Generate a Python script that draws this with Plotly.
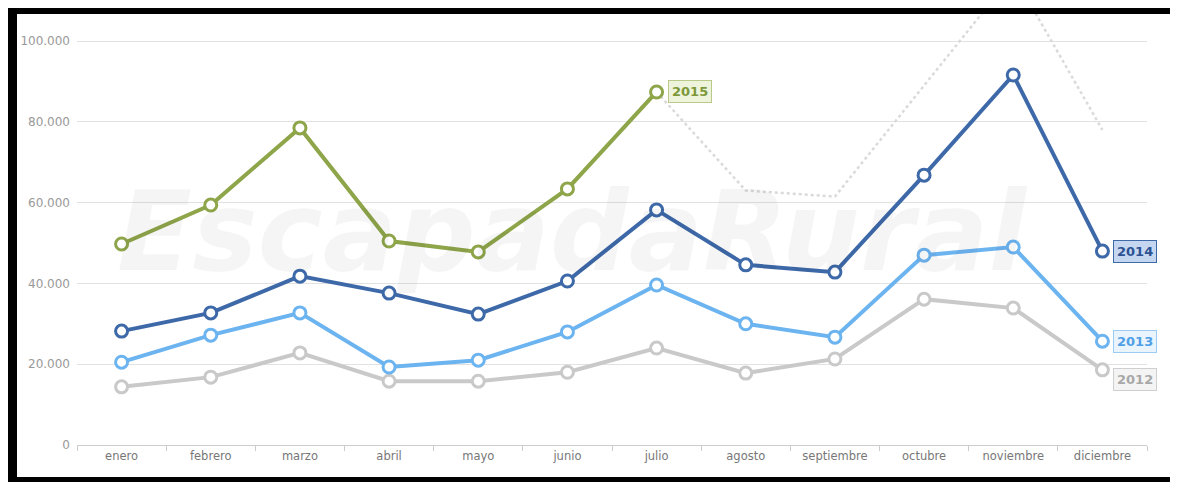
import plotly.graph_objects as go

months = ["enero", "febrero", "marzo", "abril", "mayo", "junio", "julio",
          "agosto", "septiembre", "octubre", "noviembre", "diciembre"]

v2012 = [14400, 16800, 22800, 15800, 15800, 18000, 24000, 17800, 21300, 36100, 33900, 18600]
v2013 = [20500, 27200, 32700, 19300, 21000, 28000, 39600, 30000, 26700, 47000, 49000, 25700]
v2014 = [28200, 32700, 41800, 37600, 32400, 40600, 58200, 44600, 42800, 66800, 91600, 48000]
v2015 = [49750, 59400, 78500, 50500, 47800, 63400, 87400]
forecast_months = ["julio", "agosto", "septiembre", "octubre", "noviembre", "diciembre"]
forecast_vals = [87400, 63000, 61500, 89000, 116500, 78000]

ytick_vals = [0, 20000, 40000, 60000, 80000, 100000]
ytick_text = ["0", "20.000", "40.000", "60.000", "80.000", "100.000"]

# page has an 8px body margin; figure coordinates = screen coordinates - 8
OFF = 8
W, H = 1178 - OFF, 482 - OFF
ML, MR, MT, MB = 69, 31, 6, 37
PW, PH = W - ML - MR, H - MT - MB

def px_x(p):
    return (p - OFF - ML) / PW

def px_y(p):
    return (H - MB - (p - OFF)) / PH

fig = go.Figure()

fig.add_trace(go.Scatter(
    x=forecast_months, y=forecast_vals, mode="lines",
    line=dict(color="#dadada", width=2.5, dash="dot"),
    hoverinfo="skip", showlegend=False))

series = [
    ("2012", v2012, "#c9c9c9"),
    ("2013", v2013, "#6cb4f0"),
    ("2014", v2014, "#3e69a9"),
    ("2015", v2015, "#8ea54a"),
]
for name, vals, col in series:
    fig.add_trace(go.Scatter(
        x=months[:len(vals)], y=vals, mode="lines+markers", name=name,
        line=dict(color=col, width=4),
        marker=dict(symbol="circle", size=12, color="white",
                    line=dict(color=col, width=3)),
        showlegend=False))

# watermark
fig.add_annotation(
    x=px_x(572), y=px_y(232), xref="paper", yref="paper",
    text="<b><i>EscapadaRural</i></b>", showarrow=False,
    font=dict(family="DejaVu Sans", size=110, color="rgba(0,0,0,0.04)"))

labels = [
    ("2015", "julio", v2015[-1], "#7d9838", "#eef3dc", "#b8c98a", 0),
    ("2014", "diciembre", v2014[-1], "#2b5292", "#c5d6f0", "#3e69a9", 0),
    ("2013", "diciembre", v2013[-1], "#4f9fe6", "#eaf4fd", "#9ccbf3", 0),
    ("2012", "diciembre", v2012[-1], "#a8a8a8", "#f4f4f4", "#cfcfcf", -10),
]
for txt, xm, yv, tc, bg, bc, ys in labels:
    fig.add_annotation(
        x=xm, y=yv, xref="x", yref="y", text="<b>%s</b>" % txt,
        showarrow=False, xanchor="left", xshift=11, yshift=ys,
        font=dict(family="DejaVu Sans", size=13, color=tc),
        bgcolor=bg, bordercolor=bc, borderwidth=1, borderpad=3)

# black frame (four bars, screen coords)
bars = [
    (0, 17, 0, 482),      # left
    (0, 1178, 0, 14),     # top
    (1170, 1178, 0, 482), # right
    (0, 1178, 477, 482),  # bottom
]
for x0, x1, y0, y1 in bars:
    fig.add_shape(type="rect", xref="paper", yref="paper",
                  x0=px_x(max(x0, 7)), x1=px_x(x1 + 20 if x1 >= 1178 else x1),
                  y0=px_y(y1 + 20 if y1 >= 482 else y1), y1=px_y(max(y0, 5)),
                  line=dict(width=0), fillcolor="black", layer="above")

fig.update_layout(
    width=W, height=H,
    margin=dict(l=ML, r=MR, t=MT, b=MB),
    paper_bgcolor="white", plot_bgcolor="white",
    font=dict(family="DejaVu Sans", size=11, color="#777"),
    xaxis=dict(
        categoryorder="array", categoryarray=months,
        showgrid=False, showline=True, linecolor="#cccccc", linewidth=1,
        ticks="outside", tickson="boundaries", ticklen=5, tickcolor="#cccccc",
        tickfont=dict(size=11.5, color="#777"), range=[-0.5, 11.5], fixedrange=True),
    yaxis=dict(
        range=[0, 106700], tickvals=ytick_vals, ticktext=ytick_text,
        showgrid=True, gridcolor="#e2e2e2", gridwidth=1, zeroline=False,
        tickfont=dict(size=12, color="#999"), ticks="", ticklabelstandoff=6,
        fixedrange=True),
)

fig.write_html("out.html")
